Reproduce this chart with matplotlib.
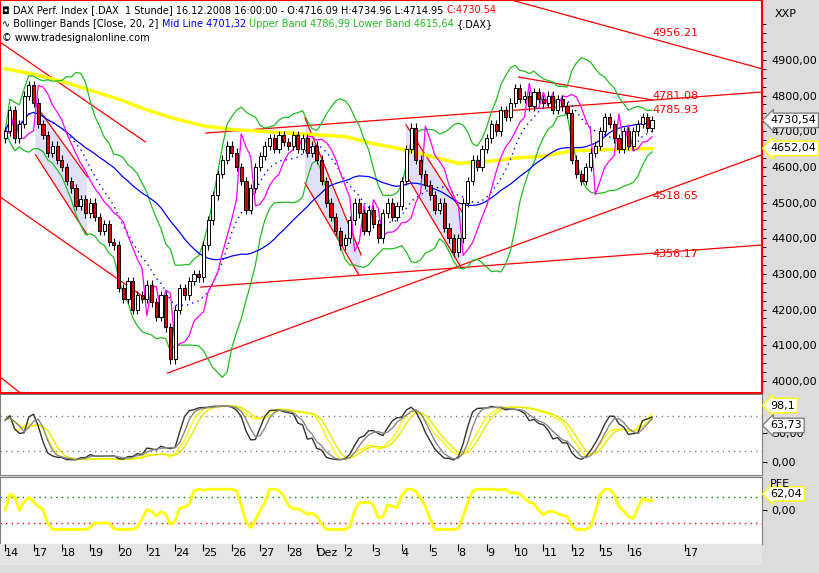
import numpy as np
import matplotlib
matplotlib.use("Agg")
import matplotlib.pyplot as plt
from matplotlib.patches import Rectangle, Polygon

days = ["14","17","18","19","20","21","24","25","26","27","28","Dez","2","3","4","5","8","9","10","11","12","15","16"]
closes = [
4700,4760,4680,4720,4800,4830,
4780,4720,4690,4640,4660,4620,
4600,4560,4540,4490,4510,4470,
4500,4460,4420,4440,4390,4380,
4260,4230,4280,4200,4240,4230,
4270,4220,4180,4240,4150,4060,
4200,4260,4240,4280,4300,4290,
4380,4450,4520,4580,4620,4660,
4640,4600,4560,4480,4540,4600,
4630,4660,4680,4650,4690,4670,
4660,4690,4650,4680,4640,4660,
4620,4560,4500,4460,4420,4380,
4400,4450,4500,4470,4420,4480,
4440,4400,4470,4500,4460,4490,
4560,4650,4710,4620,4580,4550,
4520,4480,4500,4430,4400,4360,
4400,4500,4560,4620,4600,4650,
4680,4720,4700,4760,4740,4780,
4820,4790,4800,4770,4810,4790,
4780,4800,4760,4790,4770,4750,
4620,4580,4560,4600,4640,4660,
4700,4740,4720,4680,4650,4700,
4660,4700,4720,4740,4710,4731]
ma200_daily = [4875,4860,4840,4815,4790,4760,4735,4715,4705,4700,4695,4690,4685,4665,4650,4630,4610,4615,4625,4630,4645,4648,4650,4652]
trendlines = [((-1.1,4950),(29.7,4670)),((-1.1,4516),(28.7,4241)),((-1.1,4011),(3.2,3966)),
              ((34.4,4022),(160.3,4634)),((41.4,4263),(160.3,4381)),((42.5,4695),(160.3,4810)),
              ((108.7,4852),(137,4788)),((107.2,5068),(160.3,4875))]
channels = [((6.4,4774),(17.4,4572),(6.4,4634),(17.4,4409)),
            ((63.5,4737),(75.4,4353),(63.5,4555),(74.9,4297)),
            ((84.9,4718),(97.2,4465),(84.9,4578),(96.6,4317))]
level_labels = [(4956.21,4975),(4781.08,4800),(4785.93,4760),(4518.65,4518),(4356.17,4356)]

c = np.array(closes, float)
n = len(c)
o = np.r_[c[0]-20, c[:-1]]
hi = np.maximum(o, c) + 12
lo = np.minimum(o, c) - 12
x = np.arange(n)

def sma(a, p):
    out = np.full(len(a), np.nan)
    for i in range(len(a)):
        out[i] = a[max(0, i-p+1):i+1].mean()
    return out
def sstd(a, p):
    out = np.full(len(a), np.nan)
    for i in range(len(a)):
        out[i] = a[max(0, i-p+1):i+1].std()
    return out

mid = sma(c, 13); sd = sstd(c, 13)
up = mid + 2*sd; dn = mid - 2*sd
ma50 = sma(c, 33)
ma200 = np.interp(x, np.arange(0, n+6, 6)[:len(ma200_daily)], ma200_daily)
mag = np.where(c > sma(c, 8), sma(c, 5) - 1.2*sstd(c, 8), sma(c, 5) + 1.2*sstd(c, 8))

def stoch(p, s):
    k = np.zeros(n)
    for i in range(n):
        h = hi[max(0,i-p+1):i+1].max(); l = lo[max(0,i-p+1):i+1].min()
        k[i] = 100*(c[i]-l)/(h-l)
    k = sma(k, s)
    return k, sma(k, 3)
k1, d1 = stoch(8, 3)
k2, d2 = stoch(14, 5)
pfe = np.zeros(n)
for i in range(n):
    j = max(0, i-5)
    d = c[i]-c[j]
    path = np.sum(np.sqrt(np.diff(c[j:i+1])**2 + 1)) + 1e-9
    pfe[i] = 100*d/path
pfe = sma(pfe, 2)
pfe = np.clip(pfe*1.2, -75, 80)

fig = plt.figure(figsize=(8.2, 5.73), dpi=100)
fig.patch.set_facecolor('#dcdcdc')
W = 762/820
ax = fig.add_axes([0.0, 1-393/573, W, 393/573])
ax2 = fig.add_axes([0.0, 1-475/573, W, 81/573])
ax3 = fig.add_axes([0.0, 1-544/573, W, 67/573])
xmin, xmax = -1.1, 160.3
for a in (ax, ax2, ax3):
    a.set_xlim(xmin, xmax)
    a.set_facecolor('white')
    a.yaxis.tick_right()
    a.tick_params(axis='x', bottom=False, labelbottom=False)
    for s in a.spines.values():
        s.set_color('#808080')
for s in ax.spines.values():
    s.set_color('red'); s.set_linewidth(1.5)

ax.set_ylim(3966, 5068)
for ch in channels:
    (a1,b1),(a2,b2),(a3,b3),(a4,b4) = ch
    ax.add_patch(Polygon([(a1,b1),(a2,b2),(a4,b4),(a3,b3)], closed=True, fc='#e0e0f8', ec='none', zorder=0))
    ax.plot([a1,a2],[b1,b2], color='red', lw=0.9, zorder=1)
    ax.plot([a3,a4],[b3,b4], color='red', lw=0.9, zorder=1)
for (p1, p2) in trendlines:
    ax.plot([p1[0],p2[0]],[p1[1],p2[1]], color='red', lw=0.9, zorder=1)
ax.plot(x, ma200, color='#ffff00', lw=2.5, zorder=2)
ax.plot(x, up, color='#22bb22', lw=0.9, zorder=2)
ax.plot(x, dn, color='#22bb22', lw=0.9, zorder=2)
ax.plot(x, mid, color='blue', lw=1, ls=(0,(1,3)), zorder=2)
ax.plot(x, ma50, color='blue', lw=0.9, zorder=2)
ax.plot(x, mag, color='#ff00ff', lw=0.9, zorder=2)
for i in range(n):
    ax.vlines(x[i], lo[i], hi[i], color='black', lw=0.8, zorder=3)
    col = 'white' if c[i] >= o[i] else '#dd0000'
    ax.add_patch(Rectangle((x[i]-0.33, min(o[i],c[i])), 0.66, max(abs(c[i]-o[i]), 2), fc=col, ec='black', lw=0.7, zorder=4))
for v, yp in level_labels:
    ax.text(137, yp, f"{v:.2f}", color='red', fontsize=8, va='center', zorder=5)
ax.set_yticks(np.arange(4000, 4901, 100))
ax.set_yticklabels([f"{v:.2f}".replace('.', ',') for v in np.arange(4000, 4901, 100)], fontsize=8)
ax.set_yticks(np.arange(4000, 5001, 25), minor=True)
ax.tick_params(axis='y', which='both', direction='out', length=3)

def line(parts, y):
    t = ax.text(0.003, y, parts[0][0], transform=ax.transAxes, fontsize=7, va='top', color=parts[0][1], zorder=6)
    for s, col in parts[1:]:
        t = ax.annotate(s, xy=(1, 0), xycoords=t, va='bottom', fontsize=7, color=col, zorder=6)
line([("◘ DAX Perf. Index [.DAX  1 Stunde] 16.12.2008 16:00:00 - O:4716.09 H:4734.96 L:4714.95 ", 'black'), ("C:4730.54", 'red')], 0.988)
line([("∿ Bollinger Bands [Close, 20, 2] ", 'black'), ("Mid Line 4701,32 ", 'blue'),
      ("Upper Band 4786,99 Lower Band 4615,64 ", '#22bb22'), ("{.DAX}", 'black')], 0.952)
line([("© www.tradesignalonline.com", 'black')], 0.915)
for val, ec in ((4730.54, 'gray'), (4652.04, 'yellow')):
    ax.annotate(f"{val:.2f}".replace('.', ','), xy=(1.0, val), xycoords=('axes fraction','data'), xytext=(6, 0), textcoords='offset points',
                fontsize=8, va='center', bbox=dict(boxstyle='larrow,pad=0.2', fc='white', ec=ec), annotation_clip=False)
fig.text(0.945, 0.985, "XXP", fontsize=8, va='top')

ax2.set_ylim(-22, 118)
ax2.axhline(80, color='gray', ls=(0,(1,3)), lw=1)
ax2.axhline(20, color='gray', ls=(0,(1,3)), lw=1)
ax2.plot(x, k2, color='#ffff00', lw=1); ax2.plot(x, d2, color='#e8e800', lw=1)
ax2.plot(x, k1, color='#333333', lw=1); ax2.plot(x, d1, color='#888888', lw=1)
ax2.set_yticks([0, 50]); ax2.set_yticklabels(["0,00", "50,00"], fontsize=8)
for val, lab, ec in ((98.1, "98,1", 'yellow'), (63.73, "63,73", 'gray')):
    ax2.annotate(lab, xy=(1.0, val), xycoords=('axes fraction','data'), xytext=(6, 0), textcoords='offset points',
                 fontsize=8, va='center', bbox=dict(boxstyle='larrow,pad=0.2', fc='white', ec=ec), annotation_clip=False)

ax3.set_ylim(-131, 127)
ax3.axhline(50, color='green', ls=(0,(1,3)), lw=1)
ax3.axhline(-50, color='red', ls=(0,(1,3)), lw=1)
ax3.plot(x, pfe, color='#ffff00', lw=2)
ax3.set_yticks([0]); ax3.set_yticklabels(["0,00"], fontsize=8)
ax3.annotate("62,04", xy=(1.0, 62.04), xycoords=('axes fraction','data'), xytext=(6, 0), textcoords='offset points',
             fontsize=8, va='center', bbox=dict(boxstyle='larrow,pad=0.2', fc='white', ec='yellow'), annotation_clip=False)
ax3.text(1.01, 0.97, "PFE", transform=ax3.transAxes, fontsize=8, va='top')

axx = fig.add_axes([0.0, 1-565/573, W, 21/573])
axx.set_facecolor('#e4e4e4')
axx.set_xlim(xmin, xmax); axx.set_ylim(0, 1)
axx.set_yticks([])
for s in axx.spines.values(): s.set_visible(False)
pos = list(np.arange(0, n, 6)) + [144]
labs = days + ["17"]
axx.set_xticks(pos)
axx.set_xticklabels(labs, fontsize=8, ha='left')
axx.tick_params(axis='x', direction='in', pad=-12, length=5, top=True, bottom=False, labeltop=False, labelbottom=True)
fig.savefig("out.png", dpi=100, facecolor=fig.get_facecolor())
